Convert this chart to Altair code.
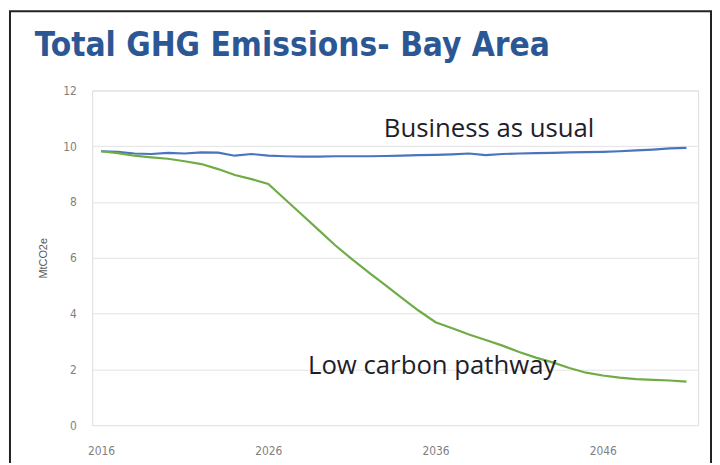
import altair as alt
import pandas as pd

years = list(range(2016, 2052))
bau = [9.82, 9.80, 9.74, 9.72, 9.76, 9.74, 9.78, 9.77, 9.66, 9.72,
       9.66, 9.64, 9.63, 9.63, 9.64, 9.64, 9.64, 9.65, 9.66, 9.68,
       9.69, 9.71, 9.74, 9.68, 9.72, 9.74, 9.75, 9.76, 9.78, 9.79,
       9.80, 9.82, 9.85, 9.88, 9.92, 9.94]
low = [9.82, 9.75, 9.66, 9.60, 9.55, 9.46, 9.36, 9.18, 8.97, 8.82,
       8.65, 8.10, 7.55, 7.00, 6.45, 5.95, 5.48, 5.02, 4.55, 4.10,
       3.69, 3.47, 3.25, 3.05, 2.85, 2.62, 2.42, 2.25, 2.05, 1.88,
       1.78, 1.70, 1.65, 1.62, 1.60, 1.56]
series_names = ["Business as usual", "Low carbon pathway"]
label_years = [2039.2, 2035.8]
label_values = [10.6, 2.13]
x_ticks = [2016, 2026, 2036, 2046]
y_ticks = [0, 2, 4, 6, 8, 10, 12]
title_text = ["Total GHG Emissions- Bay Area"]

df = pd.DataFrame({
    "year": years * 2,
    "value": bau + low,
    "series": [series_names[0]] * len(years) + [series_names[1]] * len(years),
})
labels = pd.DataFrame({"year": label_years, "value": label_values, "label": series_names})
tdf = pd.DataFrame({"t": title_text})

W, H = 612, 338
COND = "'DejaVu Sans Condensed', 'Roboto', sans-serif"

x = alt.X("year:Q", scale=alt.Scale(domain=[2015.47, 2051.7], nice=False, zero=False),
          axis=alt.Axis(values=x_ticks, format="d", title=None, grid=False, domain=False,
                        ticks=False, labelColor="#7f7f7f", labelFontSize=12,
                        labelFont=COND, labelPadding=21))
y = alt.Y("value:Q", scale=alt.Scale(domain=[0, 12], nice=False),
          axis=alt.Axis(values=y_ticks, title="MtCO2e", titleFontSize=11, titleFontWeight="normal",
                        titleColor="#595959", titlePadding=14, grid=True, gridColor="#e3e3e3",
                        domain=False, ticks=False, labelColor="#7f7f7f", labelFontSize=12,
                        labelFont=COND, labelPadding=16))

lines = alt.Chart(df).mark_line(strokeWidth=2.2).encode(
    x=x, y=y,
    color=alt.Color("series:N", scale=alt.Scale(domain=series_names, range=["#4a74c0", "#6fac46"]),
                    legend=None),
)

texts = alt.Chart(labels).mark_text(font="Open Sans", fontSize=26, color="#1e1e2a").encode(
    x="year:Q", y="value:Q", text="label:N")

title = alt.Chart(tdf).mark_text(font=COND, fontSize=33.5, fontWeight="bold",
                                 color="#2c5795", align="left", baseline="alphabetic").encode(
    x=alt.value(-58), y=alt.value(-35), text="t:N")

border = alt.Chart(tdf).mark_rect(fill=None, stroke="#222222", strokeWidth=2).encode(
    x=alt.value(-83), x2=alt.value(625), y=alt.value(-80), y2=alt.value(400))

chart = alt.layer(border, lines, texts, title).properties(
    width=W, height=H,
    padding={"left": 85, "top": 81, "right": 14, "bottom": 36},
    autosize="none",
).configure_view(stroke=None).configure(background="white")

chart.save("out.html", embed_options={"renderer": "svg", "actions": False})
